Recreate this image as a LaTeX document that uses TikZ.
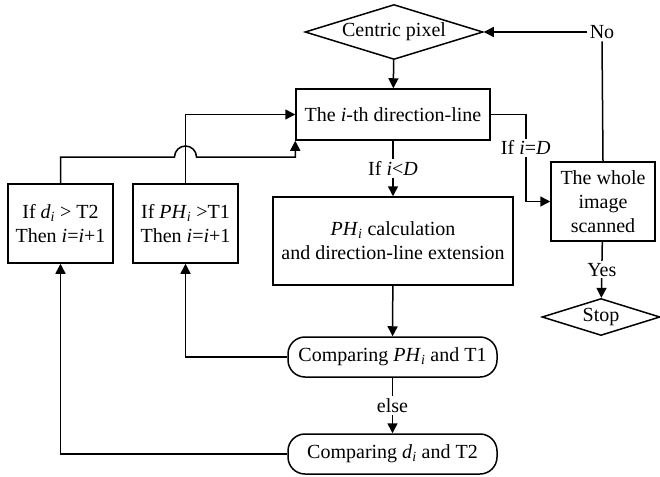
\documentclass[tikz,border=0pt]{standalone}
\usepackage{fontspec}
\setmainfont{Liberation Serif}
\usetikzlibrary{arrows.meta}
\usetikzlibrary{shapes.geometric}

\begin{document}
\begin{tikzpicture} [x=1pt,y=-1pt,line width=1.5pt,>={Triangle[length=10pt,width=10pt]},
  font=\fontsize{20}{24}\selectfont,
  box/.style={draw,rectangle,align=center,inner sep=0pt},
  decision/.style={draw,diamond,aspect=3,inner sep=0pt},
  term/.style={draw,rectangle,rounded corners=17pt,minimum width=209pt,minimum height=40pt},
  lbl/.style={fill=white,inner sep=2pt}]
\useasboundingbox (0,0) rectangle (660,476);

% main column
\node[decision,minimum width=178pt,minimum height=55pt] (centric) at (394,32) {Centric pixel};
\node[box,minimum width=194pt,minimum height=51pt] (dirline) at (393,114.5) {The \textit{i}-th direction-line};
\node[box,minimum width=240pt,minimum height=88pt] (calc) at (393,241) {\textit{PH}\textsubscript{\textit{i}} calculation\\and direction-line extension};
\node[term] (cmp1) at (392.5,357) {Comparing \textit{PH}\textsubscript{\textit{i}} and T1};
\node[term] (cmp2) at (392.5,454) {Comparing \textit{d}\textsubscript{\textit{i}} and T2};

% left boxes
\node[box,minimum width=105pt,minimum height=79pt] (ifd) at (60.5,223.5) {If \textit{d}\textsubscript{\textit{i}} > T2\\Then \textit{i}=\textit{i}+1};
\node[box,minimum width=105pt,minimum height=79pt] (ifph) at (185.5,223.5) {If \textit{PH}\textsubscript{\textit{i}} >T1\\Then \textit{i}=\textit{i}+1};

% right column
\node[lbl] (no) at (602,32) {No};
\node[box,minimum width=104pt,minimum height=79pt] (whole) at (603,201.5) {The whole\\image\\scanned};
\node[decision,minimum width=118pt,minimum height=37pt] (stop) at (601,317) {Stop};

\coordinate (hopL) at (174.5,157);

\draw[->] (centric) -- (dirline);
\draw[->] (dirline) -- node[lbl]{If \textit{i}<\textit{D}} (calc);
\draw[->] (calc) -- (cmp1);
\draw[->] (cmp1) -- node[lbl]{else} (cmp2);
\draw[->] (dirline.east) -- ++(35,0) |- node[lbl,pos=0.19]{If \textit{i}=\textit{D}} (whole.west);
\draw[->] (whole) -- node[lbl]{Yes} (stop);
\draw[->] (no) -- (centric);
\draw (no.south) -- (whole.north);
\draw[->] (cmp1.west) -| (ifph.south);
\draw[->] (cmp2.west) -| (ifd.south);
\draw[->] (ifph.north) |- (dirline.west);
\draw[->] (ifd.north) |- (hopL) arc[start angle=180,end angle=360,radius=11] -| (dirline.south west);
\end{tikzpicture}
\end{document}
